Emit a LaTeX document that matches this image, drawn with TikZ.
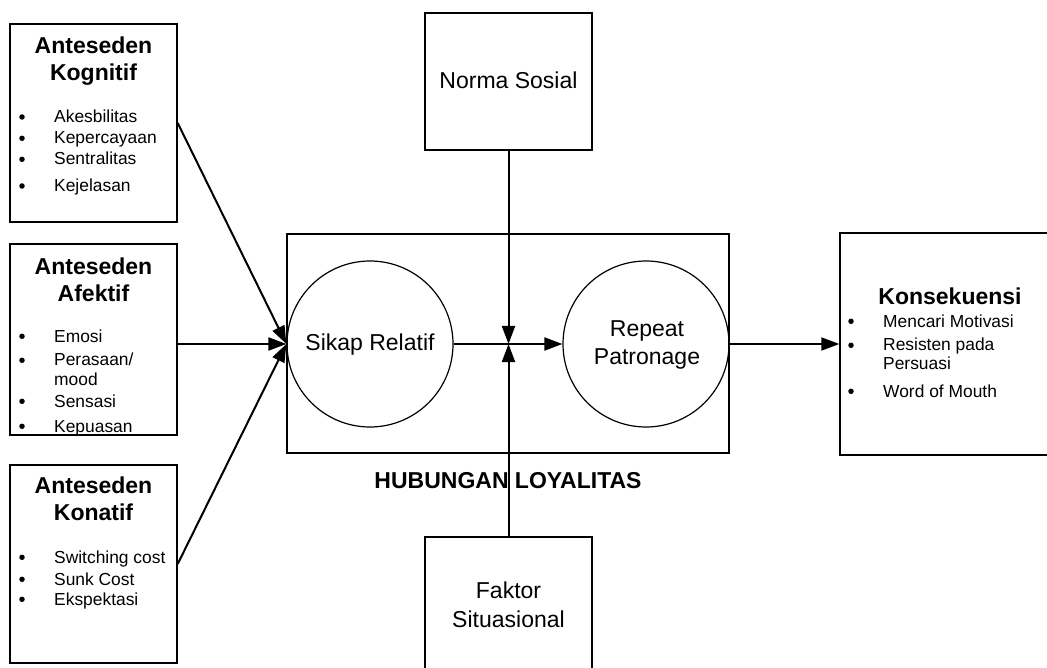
\documentclass[tikz,border=0pt]{standalone}
\usepackage{fontspec}
\setmainfont{Liberation Sans}
\usetikzlibrary{arrows.meta}
\tikzset{
  box/.style={draw, line width=1.4pt, minimum width=167pt, inner sep=0pt},
  ttl/.style={font=\fontsize{23}{27}\selectfont\bfseries, anchor=base, inner sep=0pt},
  lbl/.style={font=\fontsize{23}{27}\selectfont, anchor=base, inner sep=0pt},
  itm/.style={font=\fontsize{17.4}{20}\selectfont, anchor=base west, inner sep=0pt},
  dot/.style={circle, fill, minimum size=5.5pt, inner sep=0pt},
  circ/.style={draw, circle, line width=1.2pt, minimum size=166pt, inner sep=0pt},
  flow/.style={line width=2pt, -{Triangle[length=18pt,width=13pt]}},
}
\begin{document}
\begin{tikzpicture}[x=1pt,y=-1pt]
\path[use as bounding box, clip] (0,0) rectangle (1047,668);
\fill[white] (0,0) rectangle (1047,668);

% antecedent boxes on the left
\node[box, minimum height=198pt] (kog) at (93.5,123) {};
\node[ttl] (kogA) at (93.5,54) {Anteseden};
\node[ttl] (kogB) at (93.5,80.7) {Kognitif};
\foreach \y/\t [count=\i] in {122.7/{Akesbilitas}, 144/{Kepercayaan}, 165/{Sentralitas}, 191.7/{Kejelasan}} {
  \node[dot] (kogb\i) at (22,\y-5.7) {};
  \node[itm] (kogi\i) at (54,\y) {\t};
}

\node[box, minimum height=191pt] (afk) at (93.5,339.5) {};
\node[ttl] (afkA) at (93.5,275) {Anteseden};
\node[ttl] (afkB) at (93.5,302) {Afektif};
\foreach \y/\t [count=\i] in {342/{Emosi}, 366/{Perasaan/}, 407/{Sensasi}, 432/{Kepuasan}} {
  \node[dot] (afkb\i) at (22,\y-5.7) {};
  \node[itm] (afki\i) at (54,\y) {\t};
}
\node[itm] (afkm) at (54,385) {mood};

\node[box, minimum height=198pt] (kon) at (93.5,564) {};
\node[ttl] (konA) at (93.5,493) {Anteseden};
\node[ttl] (konB) at (93.5,520) {Konatif};
\foreach \y/\t [count=\i] in {563/{Switching cost}, 585/{Sunk Cost}, 605/{Ekspektasi}} {
  \node[dot] (konb\i) at (22,\y-5.7) {};
  \node[itm] (koni\i) at (54,\y) {\t};
}

% moderating factors
\node[box, minimum height=137pt] (norma) at (508.5,81.5) {};
\node[lbl] (normaT) at (508.5,89) {Norma Sosial};
\node[box, minimum height=137pt] (fak) at (508.5,605.5) {};
\node[lbl] (fakA) at (508.5,598) {Faktor};
\node[lbl] (fakB) at (508.5,627) {Situasional};

% loyalty relationship
\node[draw, line width=1.4pt, minimum width=442pt, minimum height=219pt, inner sep=0pt] (loyal) at (508,343.5) {};
\node[circ] (c1) at (370,344) {};
\node[circ] (c2) at (646,344) {};
\node[lbl] (c1T) at (370,350) {Sikap Relatif};
\node[lbl] (c2A) at (647,337) {Repeat};
\node[lbl] (c2B) at (647,364) {Patronage};
\node[ttl] (hub) at (508,488) {HUBUNGAN LOYALITAS};

% consequences
\node[box, minimum width=220pt, minimum height=222pt] (kons) at (950,344) {};
\node[ttl] (konsT) at (950,305) {Konsekuensi};
\foreach \y/\t [count=\i] in {327/{Mencari Motivasi}, 351/{Resisten pada}, 397/{Word of Mouth}} {
  \node[dot] (konsb\i) at (851,\y-5.7) {};
  \node[itm] (konsi\i) at (883,\y) {\t};
}
\node[itm] (konsp) at (883,370) {Persuasi};

% connectors
\coordinate (j) at (norma.south |- c1.east);
\draw[flow] (kog.east) -- (c1.west);
\draw[flow] (afk.east |- c1.west) -- (c1.west);
\draw[flow] (kon.east) -- (c1.west);
\draw[flow] (c1.east) -- (c2.west);
\draw[flow] (norma.south) -- (j);
\draw[flow] (fak.north) -- (j);
\draw[flow] (c2.east) -- (kons.west);
\end{tikzpicture}
\end{document}
